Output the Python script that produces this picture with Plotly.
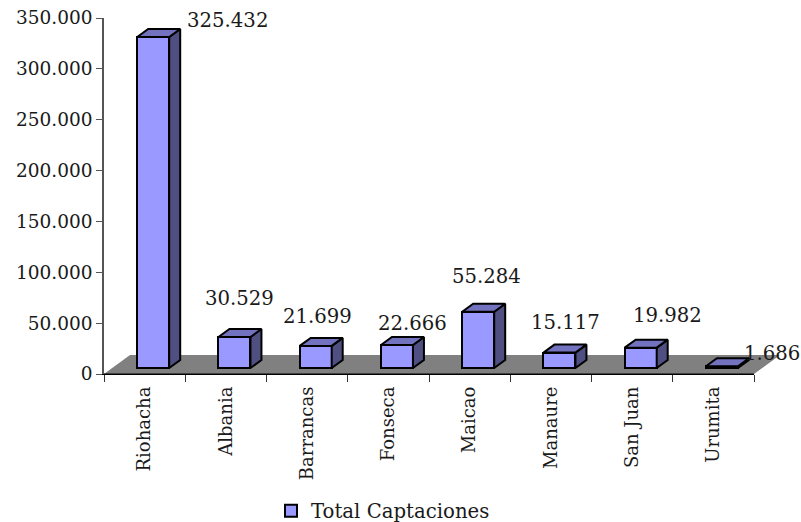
import plotly.graph_objects as go

categories = ["Riohacha", "Albania", "Barrancas", "Fonseca", "Maicao", "Manaure", "San Juan", "Urumita"]
values = [325432, 30529, 21699, 22666, 55284, 15117, 19982, 1686]
series_name = "Total Captaciones"
y_ticks = [0, 50000, 100000, 150000, 200000, 250000, 300000, 350000]

# pixel helpers for the pseudo-3D projection
L, R, R_AXIS, T, B = 104, 780, 754, 18, 374
W, H = 801, 522
cat_px = (R_AXIS - L) / len(categories)
val_px = (B - T) / 350000
DX = 11 / cat_px          # depth of a bar, x
DY = 8 / val_px           # depth of a bar, y
BASE = 6 / val_px         # bars stand on the floor, above the axis
BAR_W = 32 / cat_px
BAR_C = 49.2 / cat_px
FLOOR_DX = 26 / cat_px
FLOOR_DY = 19 / val_px
XMAX = (R - L) / cat_px

FONT = "DejaVu Serif"
FS = 18.5
FS_CAT = 18
FS_LABEL = 19.7
INK = "#1a1a1a"
FRONT, SIDE, TOP = "#9999FF", "#4F4F82", "#7272BE"

fig = go.Figure()

fig.add_bar(
    x=[i + BAR_C for i in range(len(values))], y=values, base=BASE, width=BAR_W,
    name=series_name, marker=dict(color=FRONT, line=dict(color="black", width=2)),
    showlegend=True,
)

side_x, side_y, top_x, top_y = [], [], [], []
for i, v in enumerate(values):
    x0, x1 = i + BAR_C - BAR_W / 2, i + BAR_C + BAR_W / 2
    y0, y1 = BASE, BASE + v
    side_x += [x1, x1 + DX, x1 + DX, x1, x1, None]
    side_y += [y0, y0 + DY, y1 + DY, y1, y0, None]
    top_x += [x0, x0 + DX, x1 + DX, x1, x0, None]
    top_y += [y1, y1 + DY, y1 + DY, y1, y1, None]

for xs, ys, col in ((side_x, side_y, SIDE), (top_x, top_y, TOP)):
    fig.add_scatter(x=xs, y=ys, mode="lines", fill="toself", fillcolor=col,
                    line=dict(color="black", width=2), showlegend=False, hoverinfo="skip")

# hidden trace that brings the boundary-tick axis to life
fig.add_scatter(x=[0, len(values)], y=[0, 0], xaxis="x2", mode="lines",
                line=dict(color="black", width=1), showlegend=False, hoverinfo="skip")

fig.add_shape(type="path", layer="below", xref="x", yref="y",
              path=f"M 0 0 L {FLOOR_DX} {FLOOR_DY} L {XMAX} {FLOOR_DY} L {len(values)} 0 Z",
              fillcolor="#808080", line=dict(width=0))

# data labels were hand-placed in the original: offsets from the bar centre (px) and height (px from top)
label_dx = [74, 5, 2, 16, 8, 6, 27, 50]
label_top = [20, 298, 316, 323, 276, 322, 315, 353]
for i, v in enumerate(values):
    fig.add_annotation(x=i + BAR_C + label_dx[i] / cat_px, y=(B - label_top[i]) / val_px,
                       xref="x", yref="y", text=f"{v:,}".replace(",", "."), showarrow=False,
                       font=dict(family=FONT, size=FS_LABEL, color=INK))

fig.update_layout(
    template="none",
    width=W, height=H, autosize=False, paper_bgcolor="white", plot_bgcolor="rgba(0,0,0,0)",
    margin=dict(l=L, r=W - R, t=T, b=H - B, pad=0), separators=",.",
    font=dict(family=FONT, size=FS, color=INK), bargap=0,
    legend=dict(orientation="h", xref="container", yref="container", x=271 / W, xanchor="left",
                y=1 - 511 / H, yanchor="middle",
                font=dict(family=FONT, size=FS_LABEL, color=INK), bgcolor="rgba(0,0,0,0)", itemwidth=30, borderwidth=0),
    xaxis=dict(domain=[0, 1], range=[0, XMAX], tickmode="array", tickvals=[i + 0.5 for i in range(len(categories))],
               ticktext=categories, tickangle=-90, ticks="", showline=False, showgrid=False, zeroline=False,
               tickfont=dict(family=FONT, size=FS_CAT, color=INK), ticklabelstandoff=8, automargin=False),
    xaxis2=dict(domain=[0, (R_AXIS - L) / (R - L)], range=[0, len(categories)], anchor="y", tickmode="array",
                tickvals=list(range(len(categories) + 1)), ticktext=[""] * (len(categories) + 1),
                ticks="outside", ticklen=7, tickcolor="#333", showline=True, linecolor="black", linewidth=1,
                showgrid=False, zeroline=False, automargin=False),
    yaxis=dict(range=[0, 350000], tickmode="array", tickvals=y_ticks, tickformat=",d", ticks="outside",
               ticklen=6, tickcolor="#555", showline=True, linecolor="#555", linewidth=1.5, showgrid=False,
               zeroline=False, tickfont=dict(family=FONT, size=FS, color=INK), automargin=False),
)

fig.write_html("out.html", config=dict(displayModeBar=False),
               post_script="document.body.style.margin='0';")
